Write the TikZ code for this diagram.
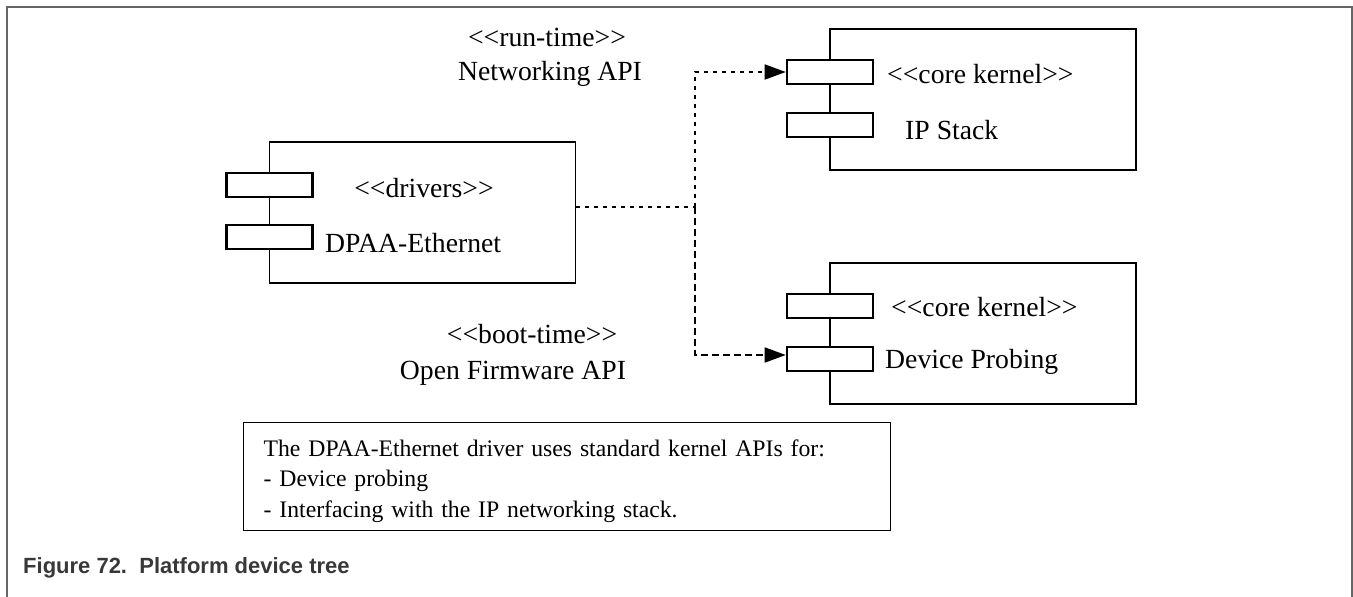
\documentclass[tikz,border=0pt]{standalone}
\usepackage{fontspec}
\setmainfont{Liberation Serif}
\newfontfamily\captionfont{Liberation Sans}
\usepackage{xcolor}
\usetikzlibrary{arrows.meta, calc}
\definecolor{framegray}{rgb}{0.40,0.40,0.40}
\definecolor{captiongray}{rgb}{0.22,0.22,0.22}
% UML stereotype with plain angle brackets (no guillemet ligature)
\newcommand{\stereo}[1]{<\kern0pt<#1>\kern0pt>}

\begin{document}
\begin{tikzpicture}[
  x=1pt, y=-1pt,
  comp/.style={
    draw, line width=1.3pt, minimum width=306pt, minimum height=141pt,
    inner sep=0pt
  },
  port/.style={
    draw, fill=white, line width=2.6pt, minimum width=86pt, minimum height=24pt,
    inner sep=0pt
  },
  lbl/.style={font=\fontsize{27.7pt}{32pt}\selectfont, inner sep=0pt},
  dotline/.style={line width=1.8pt, dash pattern=on 4pt off 5pt},
  dashline/.style={line width=1.8pt, dash pattern=on 7pt off 4pt},
  arr/.style={-{Triangle[length=21pt, width=15pt]}},
]
\useasboundingbox (0,0) rectangle (1353,597);

%% ---- Outer frame ----
\draw[framegray, line width=2.6pt] (7,597) -- (7,7) -- (1352,7) -- (1352,597);

%% ---- Interface labels ----
\node[lbl] (rtstereo) at (547, 37) {\stereo{run-time}};
\node[lbl] (rtapi)    at (550, 74) {Networking API};
\node[lbl] (btstereo) at (532, 334) {\stereo{boot-time}};
\node[lbl] (btapi)    at (513, 373) {Open Firmware API};

%% ---- Component: DPAA-Ethernet ----
\node[comp] (drv) at (422.5, 212.5) {};
\node[port] (drvpa) at (269.5, 185) {};
\node[port] (drvpb) at (269.5, 237) {};
\node[lbl] (drvst) at (424, 188) {\stereo{drivers}};
\node[lbl, anchor=west] (drvname) at (325, 243) {DPAA-Ethernet};

%% ---- Component: IP Stack ----
\node[comp] (ip) at (983, 99.5) {};
\node[port] (ippa) at (830, 72) {};
\node[port] (ippb) at (830, 125) {};
\node[lbl, anchor=west] (ipst)   at (887, 74) {\stereo{core kernel}};
\node[lbl, anchor=west] (ipname) at (905, 130) {IP Stack};

%% ---- Component: Device Probing ----
\node[comp] (prb) at (983, 333.5) {};
\node[port] (prbpa) at (830, 306) {};
\node[port] (prbpb) at (830, 359) {};
\node[lbl, anchor=west] (prbst)   at (891, 307) {\stereo{core kernel}};
\node[lbl, anchor=west] (prbname) at (885, 362) {Device Probing};

%% ---- Dependencies ----
\coordinate (split) at (695, 207);
\draw[dotline] (drv.east |- split) -- (split);
\draw[dotline, arr] (split) |- (ippa.west);
\draw[dashline, arr] (split) |- ([yshift=4pt]prbpb.west);

%% ---- Note ----
\node[draw, line width=1.3pt, anchor=north west, minimum width=647pt,
  minimum height=108pt, text width=607pt, inner xsep=20pt, align=left,
  font=\fontsize{23.7pt}{30.5pt}\selectfont] (note) at (243, 422)
  {\rule{0pt}{25pt}The DPAA-Ethernet driver uses standard kernel APIs for:\\
   - Device probing\\
   - Interfacing with the IP networking stack.};

%% ---- Caption ----
\node[anchor=west, inner sep=0pt, text=captiongray,
  font=\captionfont\bfseries\fontsize{22pt}{26pt}\selectfont] (cap)
  at (23, 568) {Figure 72.\ \ Platform device tree};

\end{tikzpicture}
\end{document}
